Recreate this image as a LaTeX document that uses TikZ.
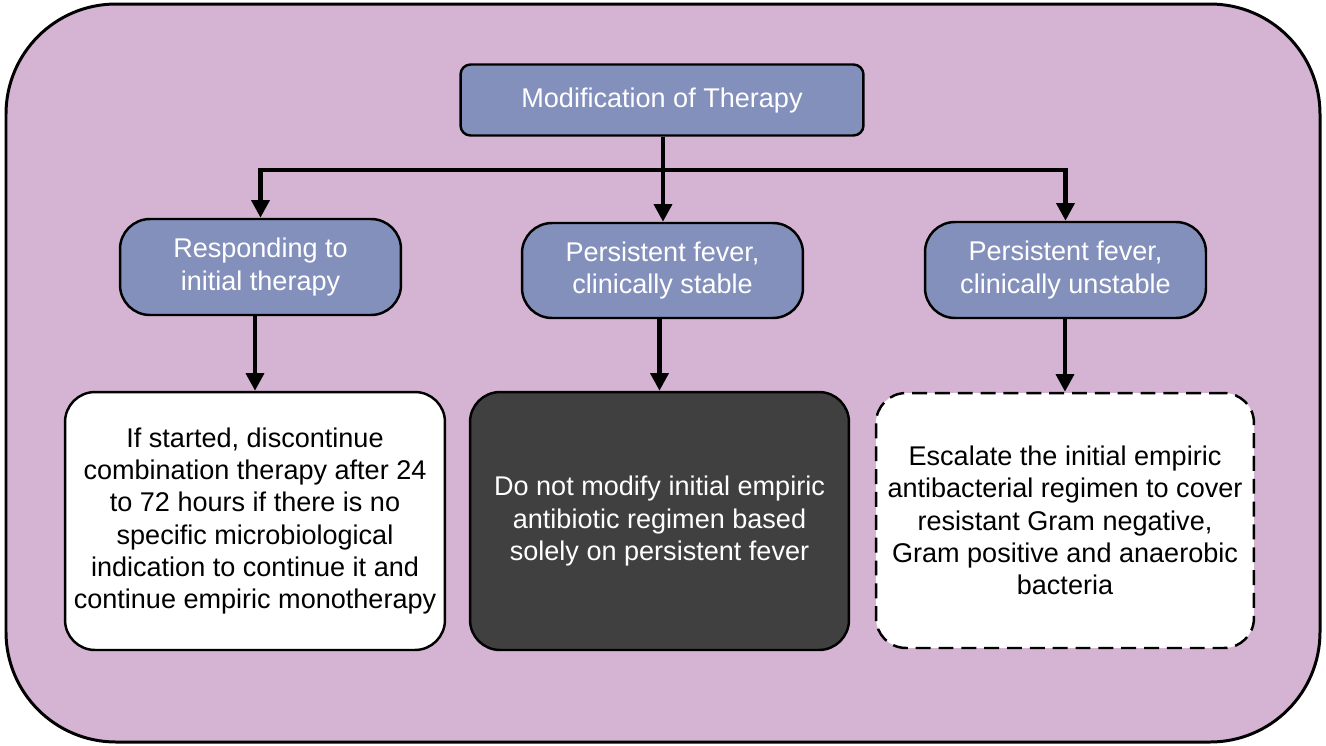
\documentclass[tikz,border=0pt]{standalone}
\usepackage{fontspec}
\setmainfont{Liberation Sans}
\usetikzlibrary{arrows.meta}

\definecolor{panelpink}{RGB}{213,179,210}
\definecolor{choiceblue}{RGB}{132,144,188}
\definecolor{darkgrey}{RGB}{64,64,64}

\tikzset{
	choice/.style={draw=black, line width=1.4pt, fill=choiceblue, text=white, align=center, rounded corners=0.6cm, inner sep=0pt},
	outcome/.style={draw=black, line width=1.4pt, fill=white, text=black, align=center, rounded corners=0.6cm, inner sep=0pt, minimum height=5.16cm},
	flow/.style={line width=2.8pt, -{Triangle[length=10pt, width=10pt]}},
}

\begin{document}
\begin{tikzpicture}[x=0.02cm, y=-0.02cm, font=\fontsize{15.4}{18.4}\selectfont]
	% Area del disegno
	\useasboundingbox (0,0) rectangle (1326,745);
	
	% Pannello di sfondo
	\draw[line width=1.7pt, fill=panelpink, rounded corners=2.2cm] (6,4) rectangle (1320,742);
	
	% Nodo principale
	\node[choice, rounded corners=0.2cm, minimum width=8.06cm, minimum height=1.42cm] (therapy) at (662,100) {Modification of Therapy};
	
	% Nodi di scelta
	\node[choice, minimum width=5.62cm, minimum height=1.92cm] (respond) at (260.5,267) {Responding to\\initial therapy};
	\node[choice, minimum width=5.62cm, minimum height=1.9cm] (stable) at (662.5,270.5) {Persistent fever,\\clinically stable};
	\node[choice, minimum width=5.62cm, minimum height=1.92cm] (unstable) at (1065.5,270) {Persistent fever,\\clinically unstable};
	
	% Nodi di esito
	\node[outcome, minimum width=7.6cm] (discontinue) at (255,521) {If started, discontinue\\combination therapy after 24\\to 72 hours if there is no\\specific microbiological\\indication to continue it and\\continue empiric monotherapy};
	\node[outcome, fill=darkgrey, text=white, minimum width=7.58cm] (keep) at (659.5,521) {Do not modify initial empiric\\antibiotic regimen based\\solely on persistent fever};
	\node[outcome, dashed, dash pattern=on 8.5pt off 4.5pt, minimum width=7.56cm, minimum height=5.1cm] (escalate) at (1065,520.5) {Escalate the initial empiric\\antibacterial regimen to cover\\resistant Gram negative,\\Gram positive and anaerobic\\bacteria};
	
	% Punto di diramazione
	\coordinate (split) at (663,170);
	
	% Collegamenti
	\draw[line width=2.8pt] (therapy.south -| split) -- (split);
	\draw[flow] (split) -| (respond.north);
	\draw[flow] (split) -- (split |- stable.north);
	\draw[flow] (split) -| (unstable.north);
	\draw[flow] (respond.south -| discontinue.north) -- (discontinue.north);
	\draw[flow] (stable.south -| keep.north) -- (keep.north);
	\draw[flow] (unstable.south -| escalate.north) -- (escalate.north);
\end{tikzpicture}
\end{document}
